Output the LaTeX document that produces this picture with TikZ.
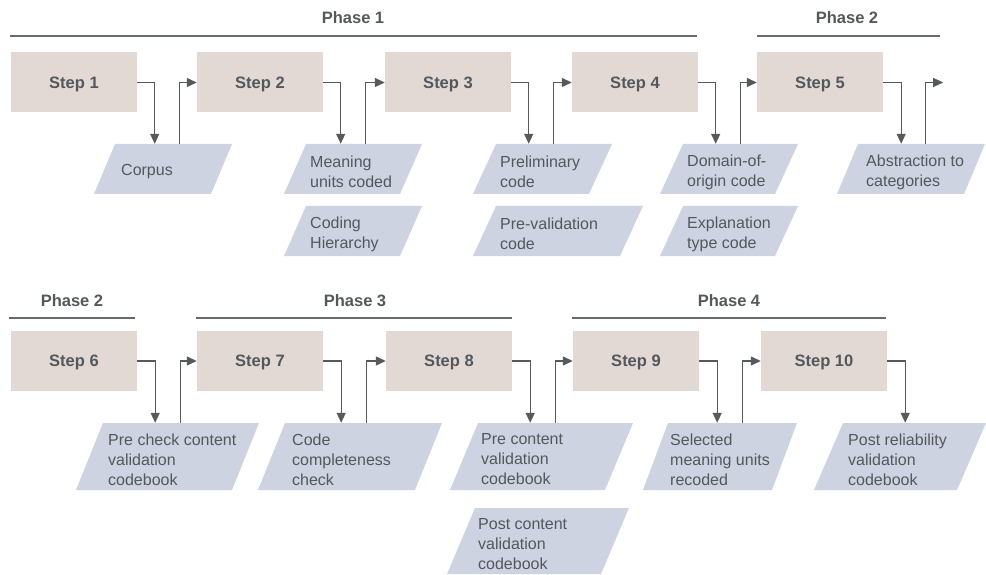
\documentclass[tikz,border=0pt]{standalone}
\usepackage{fontspec}
\setmainfont{Liberation Sans}
\usetikzlibrary{arrows.meta}
\definecolor{stepcol}{HTML}{E2D9D4}
\definecolor{parcol}{HTML}{CDD3E1}
\definecolor{txtcol}{HTML}{54585C}
\definecolor{linecol}{HTML}{575A5D}
\tikzset{
  stepbox/.style={fill=stepcol, minimum width=126pt, minimum height=60pt, inner sep=0pt,
    text=txtcol, font=\bfseries\fontsize{16.5}{20}\selectfont,
    text height=11.8pt, text depth=0pt},
  parl/.style n args={3}{minimum width=#1, minimum height=#2, inner sep=0pt,
    path picture={\fill[parcol] ([xshift=#3]path picture bounding box.north west)
      -- (path picture bounding box.north east)
      -- ([xshift=-#3]path picture bounding box.south east)
      -- (path picture bounding box.south west) -- cycle;}},
  lbl/.style={anchor=west, align=left, inner sep=0pt, text=txtcol, yshift=-3pt,
    font=\fontsize{16}{20}\selectfont},
  phase/.style={text=txtcol, inner sep=0pt, yshift=-1pt, font=\bfseries\fontsize{16.5}{20}\selectfont},
  phline/.style={draw=linecol!90, line width=1.3pt},
  arr/.style={draw=linecol, line width=1.3pt, -{Triangle[length=10pt,width=9pt]}},
  conn/.style={draw=linecol, line width=1.3pt}
}
\begin{document}
\begin{tikzpicture}[x=1pt,y=-1pt]
\useasboundingbox (0,0) rectangle (986,575);

% ---------- Row 1 ----------
\node[phase] (ph1) at (353,17) {Phase 1};
\node[phase] (ph2) at (847,17) {Phase 2};
\coordinate (l1a) at (10,36); \coordinate (l1b) at (697,36);
\coordinate (l2a) at (757,36); \coordinate (l2b) at (940,36);
\draw[phline] (l1a) -- (l1b);
\draw[phline] (l2a) -- (l2b);

\node[stepbox] (s1) at (74,82.5) {Step 1};
\node[stepbox] (s2) at (260,82.5) {Step 2};
\node[stepbox] (s3) at (448,82.5) {Step 3};
\node[stepbox] (s4) at (635,82.5) {Step 4};
\node[stepbox] (s5) at (820,82.5) {Step 5};

\node[parl={138pt}{50pt}{21pt}] (corpus) at (163,169) {};
\node[parl={138pt}{50pt}{22pt}] (meaning) at (353,169) {};
\node[parl={138pt}{50pt}{22pt}] (coding) at (353,231) {};
\node[parl={139pt}{50pt}{23pt}] (prelim) at (542.5,169) {};
\node[parl={170pt}{50pt}{23pt}] (preval) at (558,231) {};
\node[parl={138pt}{50pt}{23pt}] (domain) at (729,169) {};
\node[parl={138pt}{50pt}{23pt}] (explan) at (729,231) {};
\node[parl={148pt}{50pt}{21pt}] (abstr) at (911,169) {};

\node[lbl] (tcorpus) at (121,169) {Corpus};
\node[lbl] (tmeaning) at (310,169) {Meaning\\units coded};
\node[lbl] (tcoding) at (310,231) {Coding\\Hierarchy};
\node[lbl] (tprelim) at (500,169) {Preliminary\\code};
\node[lbl] (tpreval) at (500,231) {Pre-validation\\code};
\node[lbl] (tdomain) at (687,169) {Domain-of-\\origin code};
\node[lbl] (texplan) at (687,231) {Explanation\\type code};
\node[lbl] (tabstr) at (866,169) {Abstraction to\\categories};

% connectors row 1
\foreach \s/\p/\n in {s1/corpus/s2, s2/meaning/s3, s3/prelim/s4, s4/domain/s5}{
  \coordinate (d\s) at ([xshift=17.5pt]\s.east);
  \coordinate (u\s) at ([xshift=42.5pt]\s.east);
  \draw[arr] (\s.east) -| (d\s |- \p.north);
  \draw[arr] (u\s |- \p.north) |- (\n.west);
}
\coordinate (ds5) at ([xshift=18pt]s5.east);
\coordinate (us5) at ([xshift=42pt]s5.east);
\coordinate (end5) at ([xshift=60pt]s5.east);
\draw[arr] (s5.east) -| (ds5 |- abstr.north);
\draw[arr] (us5 |- abstr.north) |- (end5);

% ---------- Row 2 ----------
\node[phase] (ph2b) at (72,300) {Phase 2};
\node[phase] (ph3) at (355,300) {Phase 3};
\node[phase] (ph4) at (729,300) {Phase 4};
\coordinate (m1a) at (9,318); \coordinate (m1b) at (135,318);
\coordinate (m2a) at (196,318); \coordinate (m2b) at (512,318);
\coordinate (m3a) at (572,318); \coordinate (m3b) at (886,318);
\draw[phline] (m1a) -- (m1b);
\draw[phline] (m2a) -- (m2b);
\draw[phline] (m3a) -- (m3b);

\node[stepbox] (s6) at (74,361) {Step 6};
\node[stepbox] (s7) at (260,361) {Step 7};
\node[stepbox] (s8) at (449,361) {Step 8};
\node[stepbox] (s9) at (636,361) {Step 9};
\node[stepbox] (s10) at (824,361) {Step 10};

\node[parl={183pt}{67pt}{27pt}] (precheck) at (167.5,456.5) {};
\node[parl={184pt}{67pt}{27pt}] (codecomp) at (350,456.5) {};
\node[parl={183pt}{67pt}{28pt}] (precont) at (541.5,456.5) {};
\node[parl={182pt}{66pt}{28pt}] (postcont) at (538,541) {};
\node[parl={154pt}{67pt}{25pt}] (selected) at (720,456.5) {};
\node[parl={172pt}{67pt}{29pt}] (postrel) at (900,456.5) {};

\node[lbl] (tprecheck) at (108,456.5) {Pre check content\\validation\\codebook};
\node[lbl] (tcodecomp) at (292,456.5) {Code\\completeness\\check};
\node[lbl] (tprecont) at (481,456.5) {Pre content\\validation\\codebook};
\node[lbl] (tpostcont) at (478,541) {Post content\\validation\\codebook};
\node[lbl] (tselected) at (670,456.5) {Selected\\meaning units\\recoded};
\node[lbl] (tpostrel) at (848,456.5) {Post reliability\\validation\\codebook};

\foreach \s/\p/\n in {s6/precheck/s7, s7/codecomp/s8, s8/precont/s9, s9/selected/s10}{
  \coordinate (d\s) at ([xshift=18pt]\s.east);
  \coordinate (u\s) at ([xshift=43.5pt]\s.east);
  \draw[arr] (\s.east) -| (d\s |- \p.north);
  \draw[arr] (u\s |- \p.north) |- (\n.west);
}
\coordinate (ds10) at ([xshift=18pt]s10.east);
\draw[arr] (s10.east) -| (ds10 |- postrel.north);
\end{tikzpicture}
\end{document}
